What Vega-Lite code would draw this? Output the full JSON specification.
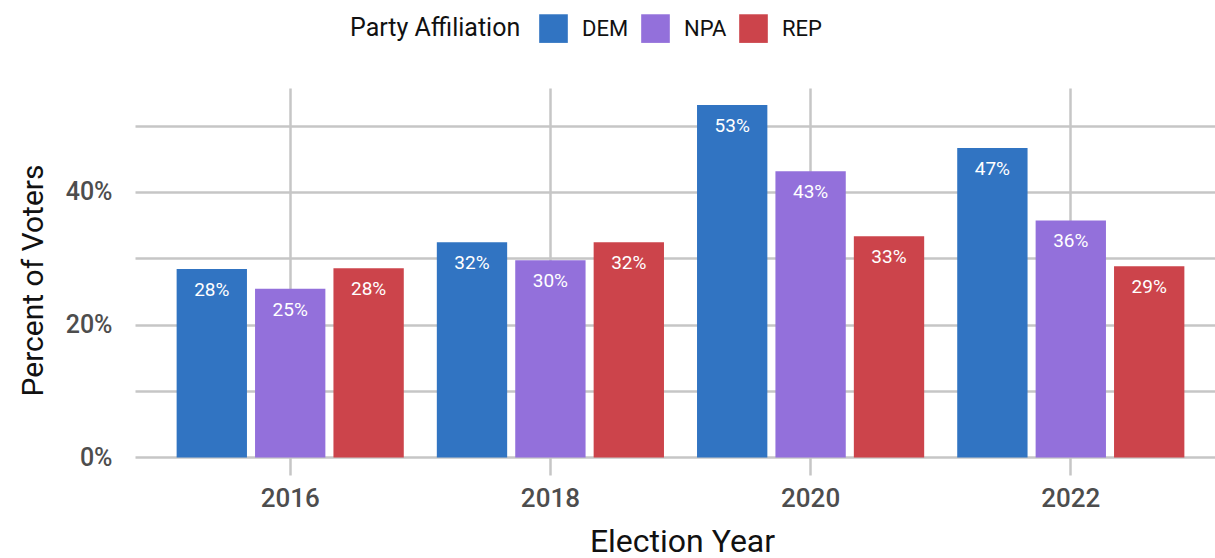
{
  "$schema": "https://vega.github.io/schema/vega-lite/v6.json",
  "autosize": {"type": "none"},
  "width": 1080,
  "height": 387,
  "padding": {"left": 135, "top": 88, "right": 0, "bottom": 83},
  "background": "white",
  "config": {
    "font": "Roboto",
    "view": {"stroke": null},
    "axis": {"gridColor": "#c6c6c6", "gridWidth": 2.5, "domain": false, "ticks": false}
  },
  "data": {
    "values": [
      {"year": "2016", "party": "DEM", "pct": 0.284},
      {"year": "2016", "party": "NPA", "pct": 0.254},
      {"year": "2016", "party": "REP", "pct": 0.285},
      {"year": "2018", "party": "DEM", "pct": 0.324},
      {"year": "2018", "party": "NPA", "pct": 0.297},
      {"year": "2018", "party": "REP", "pct": 0.324},
      {"year": "2020", "party": "DEM", "pct": 0.531},
      {"year": "2020", "party": "NPA", "pct": 0.431},
      {"year": "2020", "party": "REP", "pct": 0.333},
      {"year": "2022", "party": "DEM", "pct": 0.466},
      {"year": "2022", "party": "NPA", "pct": 0.357},
      {"year": "2022", "party": "REP", "pct": 0.288}
    ]
  },
  "encoding": {
    "x": {
      "field": "year",
      "type": "nominal",
      "scale": {"range": [0, 1091], "paddingInner": 0.127, "paddingOuter": 0.16},
      "axis": {
        "title": "Election Year",
        "labelAngle": 0,
        "labelFontSize": 26,
        "labelFontWeight": 500,
        "labelColor": "#4d4d4d",
        "labelPadding": 10,
        "titleFontSize": 32,
        "titleFontWeight": "normal",
        "titleColor": "#111111",
        "titleX": 547,
        "titleY": 76,
        "titleBaseline": "alphabetic",
        "grid": true
      }
    },
    "xOffset": {
      "field": "party",
      "type": "nominal",
      "sort": ["DEM", "NPA", "REP"],
      "scale": {"paddingInner": 0.103, "paddingOuter": 0}
    },
    "y": {
      "field": "pct",
      "type": "quantitative",
      "scale": {"domain": [-0.0265, 0.5565], "nice": false, "zero": false},
      "axis": {
        "title": "Percent of Voters",
        "values": [0, 0.1, 0.2, 0.3, 0.4, 0.5],
        "labelExpr": "(round(datum.value*100) % 20 == 0) ? format(datum.value, '.0%') : ''",
        "labelFontSize": 25,
        "labelFontWeight": 500,
        "labelColor": "#4d4d4d",
        "labelPadding": 23,
        "labelBaseline": "middle",
        "titleFontSize": 30,
        "titleFontWeight": "normal",
        "titleColor": "#111111",
        "titleX": -93,
        "titleY": 192,
        "titleBaseline": "alphabetic",
        "titleAlign": "center"
      }
    }
  },
  "layer": [
    {
      "mark": {"type": "bar"},
      "encoding": {
        "y2": {"datum": 0},
        "color": {
          "field": "party",
          "type": "nominal",
          "sort": ["DEM", "NPA", "REP"],
          "scale": {"domain": ["DEM", "NPA", "REP"], "range": ["#3174c2", "#9370db", "#cc444b"]},
          "legend": {
            "title": "Party Affiliation",
            "orient": "none",
            "legendX": 215,
            "legendY": -74,
            "direction": "horizontal",
            "titleOrient": "left",
            "titleAnchor": "middle",
            "titleBaseline": "middle",
            "titleFontSize": 25,
            "titleFontWeight": "normal",
            "titleColor": "#111111",
            "titlePadding": 18,
            "symbolType": "square",
            "symbolSize": 820,
            "symbolStrokeWidth": 0,
            "symbolOpacity": 1,
            "labelFontSize": 22,
            "labelColor": "#111111",
            "labelOffset": 14,
            "columnPadding": 12
          }
        }
      }
    },
    {
      "mark": {"type": "text", "color": "white", "fontSize": 19, "baseline": "alphabetic", "dy": 27},
      "encoding": {
        "text": {"field": "pct", "type": "quantitative", "format": ".0%"}
      }
    }
  ]
}
